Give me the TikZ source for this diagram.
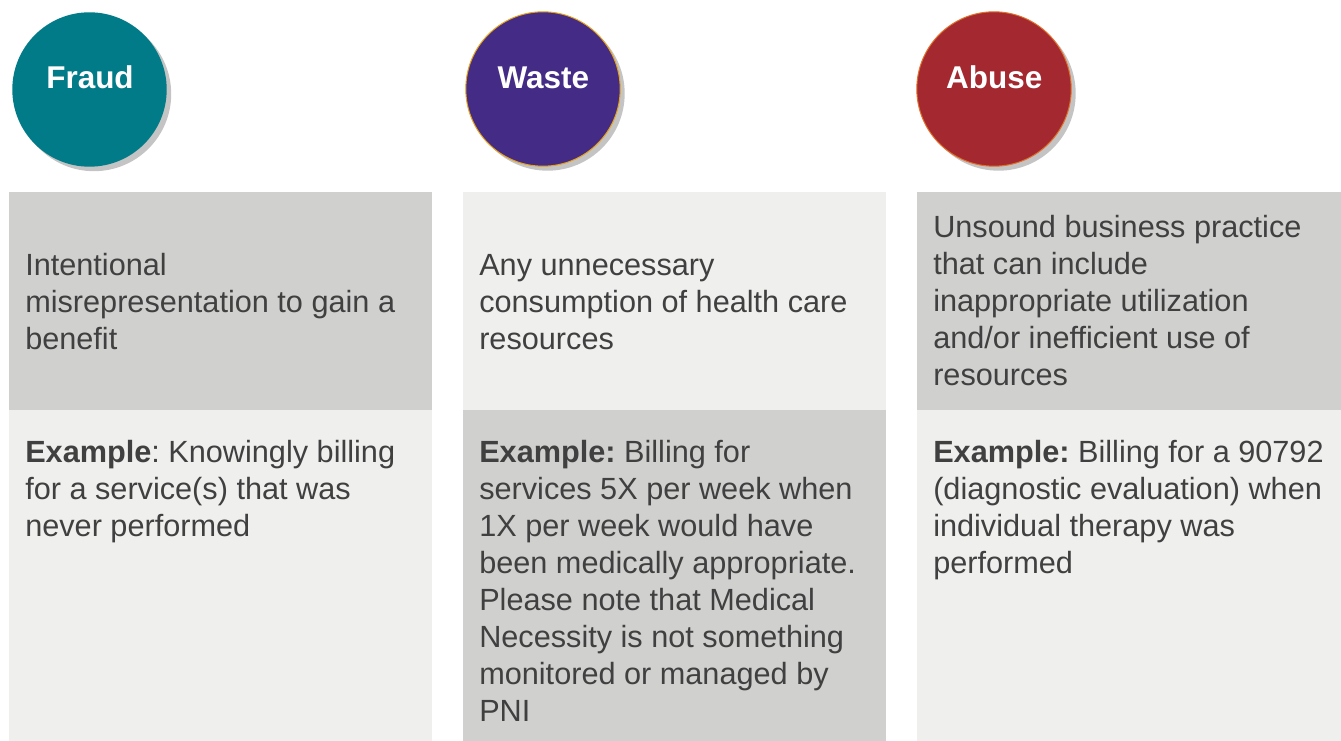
\documentclass[tikz,border=0pt]{standalone}
\usepackage{fontspec}
\setmainfont{Liberation Sans}
\definecolor{fraudteal}{HTML}{007B87}
\definecolor{wastepurple}{HTML}{432B86}
\definecolor{wasteedge}{HTML}{E8A317}
\definecolor{abusered}{HTML}{A3282F}
\definecolor{abuseedge}{HTML}{E0702A}
\definecolor{shadowgray}{HTML}{C4C4C4}
\definecolor{boxdark}{HTML}{D0D0CF}
\definecolor{boxlight}{HTML}{EFEFEE}
\definecolor{textgray}{HTML}{404040}

\begin{document}
\begin{tikzpicture}[x=0.75pt, y=-0.75pt,
    badge/.style={circle, minimum size=115.8pt, inner sep=0pt},
    badgeshadow/.style={badge, fill=shadowgray},
    badgetext/.style={anchor=base, inner sep=0pt, text=white,
        font=\fontsize{23.6}{28}\selectfont\bfseries},
    bodytext/.style={anchor=north west, align=left, inner sep=0pt, text=textgray,
        font=\fontsize{23}{27.75}\selectfont\frenchspacing}]
        \useasboundingbox (0,0) rectangle (1341,741);
        % column boxes
        \fill[boxdark] (9,192) rectangle (432,410);
        \fill[boxlight] (9,410) rectangle (432,741);
        \fill[boxlight] (463,192) rectangle (886,410);
        \fill[boxdark] (463,410) rectangle (886,741);
        \fill[boxdark] (917,192) rectangle (1341,410);
        \fill[boxlight] (917,410) rectangle (1341,741);
        % circles with shadows
        \node[badgeshadow] (fraudshadow) at (94,94) {};
        \node[badge, fill=fraudteal] (fraud) at (89.5,89.5) {};
        \node[badgeshadow] (wasteshadow) at (547.5,93.5) {};
        \node[badge, fill=wastepurple, draw=wasteedge, line width=0.75pt] (waste) at (543,89) {};
        \node[badgeshadow] (abuseshadow) at (998.5,93.5) {};
        \node[badge, fill=abusered, draw=abuseedge, line width=0.75pt] (abuse) at (994,89) {};
        \node[badgetext] (fraudlbl) at (90,88.3) {Fraud};
        \node[badgetext] (wastelbl) at (543.3,88.3) {Waste};
        \node[badgetext] (abuselbl) at (994.3,88.3) {Abuse};
        % definitions
        \node[bodytext] (frauddef) at (25,249) {\strut Intentional\\ misrepresentation to gain a\\ benefit};
        \node[bodytext] (wastedef) at (479,249) {\strut Any unnecessary\\ consumption of health care\\ resources};
        \node[bodytext] (abusedef) at (933,211.4) {\strut Unsound business practice\\ that can include\\ inappropriate utilization\\ and/or inefficient use of\\ resources};
        % examples
        \node[bodytext] (fraudex) at (25,436.8) {\strut\textbf{Example}: Knowingly billing\\ for a service(s) that was\\ never performed};
        \node[bodytext] (wasteex) at (479,436.8) {\strut\textbf{Example:} Billing for\\ services 5X per week when\\ 1X per week would have\\ been medically appropriate.\\ Please note that Medical\\ Necessity is not something\\ monitored or managed by\\ PNI};
        \node[bodytext] (abuseex) at (933,436.8) {\strut\textbf{Example:} Billing for a 90792\\ (diagnostic evaluation) when\\ individual therapy was\\ performed};
\end{tikzpicture}
\end{document}
